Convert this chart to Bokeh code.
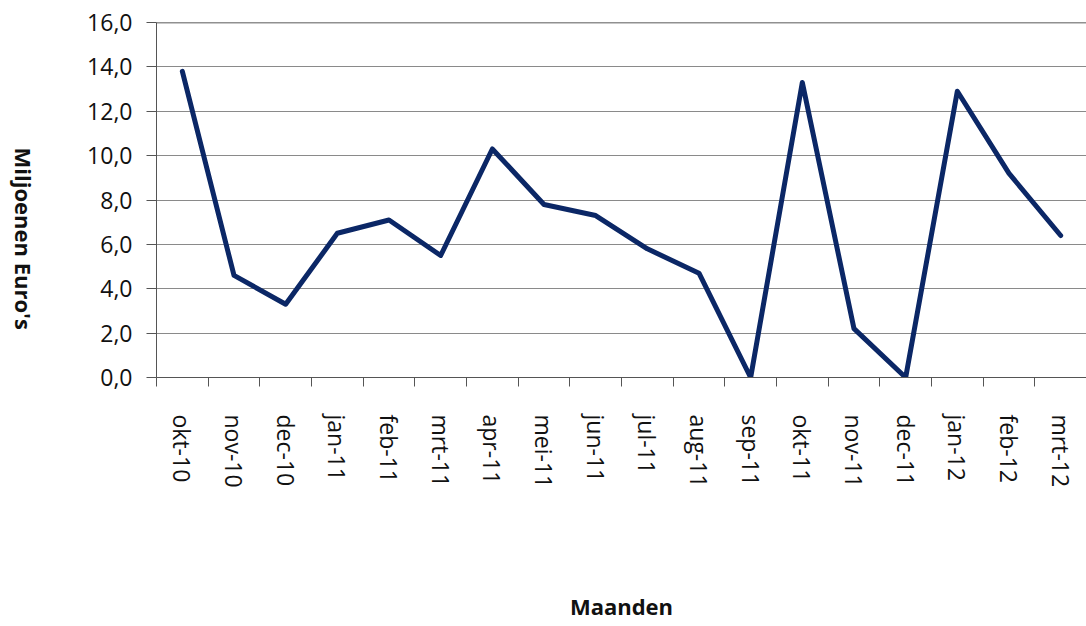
import math
import numpy as np
from bokeh.plotting import figure
from bokeh.layouts import row
from bokeh.models import Range1d, FixedTicker, Span, Label
from bokeh.embed import file_html
from bokeh.resources import INLINE

months = ["okt-10", "nov-10", "dec-10", "jan-11", "feb-11", "mrt-11", "apr-11",
          "mei-11", "jun-11", "jul-11", "aug-11", "sep-11", "okt-11", "nov-11",
          "dec-11", "jan-12", "feb-12", "mrt-12"]
values = [13.8, 4.6, 3.3, 6.5, 7.1, 5.5, 10.3, 7.8, 7.3, 5.8, 4.7, 0.0,
          13.3, 2.2, 0.0, 12.9, 9.2, 6.4]
y_ticks = [0, 2, 4, 6, 8, 10, 12, 14, 16]
y_tick_labels = ["0,0", "2,0", "4,0", "6,0", "8,0", "10,0", "12,0", "14,0", "16,0"]
x_title = "Maanden"
y_title = "Miljoenen Euro's"

n = len(months)
centers = [i + 0.5 for i in range(n)]
bounds = list(range(n + 1))

FONT = "Open Sans"
TXT = "#111111"
H = 624
TITLE_W = 40

# narrow strip holding the y-axis title (reads top to bottom)
side = figure(width=TITLE_W, height=H, x_range=Range1d(0, TITLE_W),
              y_range=Range1d(0, H), output_backend="svg",
              toolbar_location=None, x_axis_location=None,
              y_axis_location=None, min_border=0)
side.outline_line_color = None
side.grid.grid_line_color = None
side.add_layout(Label(x=23, y=H - 380, text=y_title, angle=-math.pi / 2,
                      text_align="center", text_baseline="middle",
                      text_font=FONT, text_font_size="22px",
                      text_font_style="bold", text_color=TXT))

p = figure(width=1086 - TITLE_W, height=H,
           x_range=Range1d(0, n), y_range=Range1d(y_ticks[0], y_ticks[-1]),
           output_backend="svg", toolbar_location=None,
           min_border_left=156 - TITLE_W, min_border_right=0,
           min_border_top=22, min_border_bottom=H - 377)

p.line(np.array(centers), values, line_color="#0B2766", line_width=5,
       line_join="round", line_cap="round")

p.outline_line_color = None
p.xgrid.grid_line_color = None
p.ygrid.grid_line_color = "#8a8a8a"
p.ygrid.grid_line_width = 1
p.ygrid.ticker = FixedTicker(ticks=y_ticks)

p.add_layout(Span(location=y_ticks[-1], dimension="width",
                  line_color="#222222", line_width=1.5))

# x axis
xa = p.xaxis[0]
xa.ticker = FixedTicker(ticks=centers, minor_ticks=bounds)
xa.major_label_overrides = {c: m for c, m in zip(centers, months)}
xa.major_label_orientation = -math.pi / 2
xa.major_tick_line_color = None
xa.major_tick_out = 0
xa.major_tick_in = 0
xa.minor_tick_out = 9
xa.minor_tick_in = 0
xa.minor_tick_line_color = "#555555"
xa.axis_line_color = "#555555"
xa.major_label_standoff = 28
xa.major_label_text_font = FONT
xa.major_label_text_font_size = "23px"
xa.major_label_text_color = TXT
xa.axis_label = x_title
xa.axis_label_text_font = FONT
xa.axis_label_text_font_size = "22px"
xa.axis_label_text_font_style = "bold"
xa.axis_label_text_color = TXT
xa.axis_label_standoff = 100

# y axis
ya = p.yaxis[0]
ya.ticker = FixedTicker(ticks=y_ticks)
ya.major_label_overrides = {t: l for t, l in zip(y_ticks, y_tick_labels)}
ya.minor_tick_line_color = None
ya.major_tick_out = 10
ya.major_tick_in = 0
ya.major_tick_line_color = "#555555"
ya.axis_line_color = "#555555"
ya.major_label_standoff = 14
ya.major_label_text_font = FONT
ya.major_label_text_font_size = "23px"
ya.major_label_text_color = TXT

open("out.html", "w").write(file_html(row(side, p, spacing=0), INLINE))
